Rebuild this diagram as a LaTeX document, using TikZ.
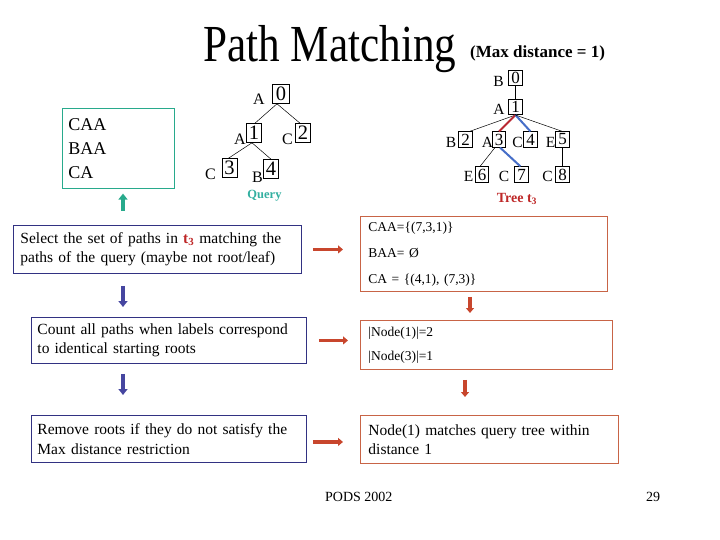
\documentclass[tikz,border=0pt]{standalone}
\usepackage{fontspec}
\setmainfont{Liberation Serif}
\usetikzlibrary{arrows.meta,calc}
\definecolor{tealc}{RGB}{40,170,140}
\definecolor{querytxt}{RGB}{50,175,160}
\definecolor{navyc}{RGB}{50,50,130}
\definecolor{rightc}{RGB}{200,100,70}
\definecolor{redarr}{RGB}{200,70,45}
\definecolor{bluearr}{RGB}{70,70,160}
\definecolor{treered}{RGB}{190,40,40}
\definecolor{linered}{RGB}{185,40,50}
\definecolor{lineblue}{RGB}{70,110,200}
\begin{document}
\begin{tikzpicture}[x=1pt,y=-1pt,
  qbox/.style={draw,line width=0.6pt,inner sep=0pt,minimum width=15pt,minimum height=19pt,font=\fontsize{20.5}{20.5}\selectfont},
  qlet/.style={inner sep=0pt,anchor=base,font=\fontsize{16}{16}\selectfont},
  tbox/.style={draw,line width=0.6pt,inner sep=0pt,minimum width=13.5pt,minimum height=15.5pt,font=\fontsize{17}{17}\selectfont},
  tlet/.style={inner sep=0pt,anchor=base,font=\fontsize{15.5}{15.5}\selectfont},
  edge/.style={line width=0.5pt},
  rededge/.style={line width=2pt,draw=linered},
  blueedge/.style={line width=2pt,draw=lineblue},
  leftbox/.style={draw=navyc,line width=0.9pt,anchor=north west,align=left,inner ysep=0pt,font=\fontsize{15.5}{19.5}\selectfont},
  rightbox/.style={draw=rightc,line width=0.9pt,anchor=north west,align=left,inner ysep=0pt},
  redarrow/.style={draw=redarr,line width=3.5pt,-{Triangle[length=5pt,width=8pt]}},
  bluearrow/.style={draw=bluearr,line width=4pt,-{Triangle[length=6pt,width=9pt]}},
  tealarrow/.style={draw=tealc,line width=4pt,-{Triangle[length=6pt,width=9pt]}}
]
\useasboundingbox (0,0) rectangle (720,540);

% title
\node[inner sep=0pt,anchor=base west] (title) at (203,62) {\scalebox{0.83}[1]{\fontsize{52}{52}\selectfont Path Matching}};
\node[inner sep=0pt,anchor=base west,font=\bfseries\fontsize{17}{17}\selectfont] (maxd) at (470,57.5) {(Max distance = 1)};

% query paths box
\node[draw=tealc,line width=0.9pt,anchor=north west,minimum width=112pt,minimum height=80pt,
      inner xsep=6pt,inner ysep=0pt,text width=100pt,align=left,font=\fontsize{18}{24.3}\selectfont] (paths) at (62,108) {CAA\\BAA\\CA};
\coordinate (tealstart) at (123,211);
\draw[tealarrow,shorten >=4.7pt] (tealstart) -- (tealstart |- paths.south);

% query tree
\node[qbox,minimum width=17pt] (q0) at (281,94) {0};
\node[qbox] (q1) at (254,133) {1};
\node[qbox] (q2) at (303,133) {2};
\node[qbox] (q3) at (229.5,168) {3};
\node[qbox] (q4) at (271,169) {4};
\node[qlet] (qa0) at (259,105) {A};
\node[qlet] (qa1) at (240,145) {A};
\node[qlet] (qc2) at (287.5,145) {C};
\node[qlet] (qc3) at (210.5,180) {C};
\node[qlet] (qb4) at (257.5,183) {B};
\draw[edge] ([xshift=-4pt]q0.south) -- ([xshift=1pt]q1.north);
\draw[edge] ([xshift=-4pt]q0.south) -- ([xshift=-3pt]q2.north);
\draw[edge] ([xshift=-2pt]q1.south) -- ([xshift=-1pt]q3.north);
\draw[edge] ([xshift=-2pt]q1.south) -- (q4.north);
\node[inner sep=0pt,text=querytxt,font=\bfseries\fontsize{12.5}{12.5}\selectfont] (qlabel) at (264.5,196) {Query};

% tree t3
\node[tbox] (t0) at (515.5,78) {0};
\node[tbox] (t1) at (515.5,107) {1};
\node[tbox] (t2) at (465.5,139.5) {2};
\node[tbox] (t3) at (499,139.5) {3};
\node[tbox] (t4) at (530.5,139.5) {4};
\node[tbox] (t5) at (562.5,139.5) {5};
\node[tbox] (t6) at (482,174.5) {6};
\node[tbox] (t7) at (521.5,174.5) {7};
\node[tbox] (t8) at (562.5,174.5) {8};
\node[tlet] (tb0) at (498.5,87) {B};
\node[tlet] (ta1) at (499,114.5) {A};
\node[tlet] (tb2) at (451,147.5) {B};
\node[tlet] (ta3) at (487.5,147.5) {A};
\node[tlet] (tc4) at (517.5,147.5) {C};
\node[tlet] (te5) at (550.5,147.5) {E};
\node[tlet] (te6) at (468.5,182) {E};
\node[tlet] (tc7) at (504,182) {C};
\node[tlet] (tc8) at (547.5,182) {C};
\draw[edge] (t0.south) -- (t1.north);
\draw[edge] (t1.south) -- ([xshift=4pt]t2.north);
\draw[rededge] (t1.south) -- (t3.north);
\draw[blueedge] (t1.south) -- (t4.north);
\draw[edge] (t1.south) -- (t5.north);
\draw[edge] ([xshift=-4pt]t3.south) -- ([xshift=-2pt]t6.north);
\draw[blueedge] ([xshift=1pt]t3.south) -- ([xshift=-1pt]t7.north);
\draw[edge] (t5.south) -- (t8.north);
\node[inner sep=0pt,text=treered,font=\bfseries\fontsize{14}{14}\selectfont] (tlabel) at (517,199) {Tree t\textsubscript{3}};

% left flow boxes
\node[leftbox,minimum width=288pt,minimum height=48pt,inner xsep=7pt,text width=274pt] (L1) at (13,225)
  {Select the set of paths in \textcolor{treered}{\textbf{t\textsubscript{3}}} matching the\\paths of the query (maybe not root/leaf)};
\node[leftbox,minimum width=275pt,minimum height=46pt,inner xsep=6pt,text width=263pt] (L2) at (31,317)
  {Count all paths when labels correspond\\to identical starting roots};
\node[leftbox,minimum width=275pt,minimum height=47pt,inner xsep=6pt,text width=263pt] (L3) at (31,415)
  {Remove roots if they do not satisfy the\\Max distance restriction};

% right boxes
\node[rightbox,minimum width=247pt,minimum height=75pt,inner xsep=8pt,text width=231pt,font=\fontsize{13.5}{26}\selectfont] (R1) at (360,216)
  {CAA=\{(7,3,1)\}\\BAA= Ø\\CA = \{(4,1), (7,3)\}};
\node[rightbox,minimum width=252pt,minimum height=49pt,inner xsep=8pt,text width=236pt,font=\fontsize{13.5}{24}\selectfont] (R2) at (360,320)
  {|Node(1)|=2\\|Node(3)|=1};
\node[rightbox,minimum width=258pt,minimum height=48pt,inner xsep=8pt,text width=242pt,font=\fontsize{15.5}{19.5}\selectfont] (R3) at (360,415)
  {Node(1) matches query tree within\\distance 1};

% arrows
\draw[bluearrow,shorten <=12pt,shorten >=10pt] ([xshift=110pt]L1.south west) -- ([xshift=92pt]L2.north west);
\draw[bluearrow,shorten <=10pt,shorten >=20pt] ([xshift=92pt]L2.south west) -- ([xshift=92pt]L3.north west);
\draw[redarrow,shorten <=11pt,shorten >=17pt] (L1.east) -- (L1.east -| R1.west);
\draw[redarrow,shorten <=12pt,shorten >=12pt] (L2.east) -- (L2.east -| R2.west);
\draw[redarrow,shorten <=6pt,shorten >=17pt] ([yshift=-3pt]L3.east) -- ([yshift=-3pt]L3.east -| R3.west);
\draw[redarrow,shorten <=5pt,shorten >=7pt] ([xshift=110pt]R1.south west) -- ([xshift=110pt]R2.north west);
\draw[redarrow,shorten <=10pt,shorten >=18pt] ([xshift=105pt]R2.south west) -- ([xshift=105pt]R3.north west);

% footer
\node[inner sep=0pt,anchor=base west,font=\fontsize{14}{14}\selectfont] (pods) at (325,501) {PODS 2002};
\node[inner sep=0pt,anchor=base west,font=\fontsize{14}{14}\selectfont] (pnum) at (646,501) {29};
\end{tikzpicture}
\end{document}
